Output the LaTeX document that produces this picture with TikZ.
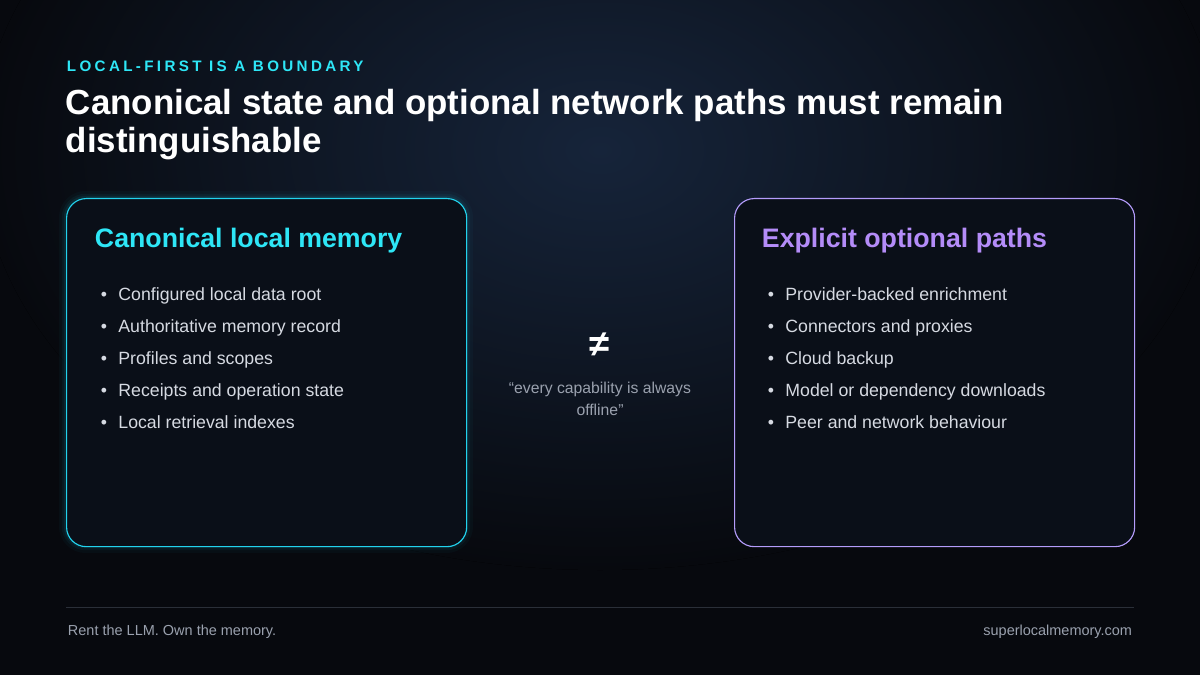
\documentclass[tikz,border=0pt]{standalone}
\usepackage{fontspec}
\setmainfont{Liberation Sans}
\usetikzlibrary{positioning}
\definecolor{bgdark}{HTML}{07090E}
\definecolor{bgglow}{HTML}{16243A}
\definecolor{boxfill}{HTML}{0A0F18}
\definecolor{cyanline}{HTML}{22D3EE}
\definecolor{cyantext}{HTML}{2EE6F6}
\definecolor{violetline}{HTML}{A78BFA}
\definecolor{violettext}{HTML}{B48CF8}
\definecolor{bodytext}{HTML}{D6DAE2}
\definecolor{mutedtext}{HTML}{9AA1AE}
\definecolor{rulegray}{HTML}{2A2F38}

\tikzset{
  panel/.style={draw, rounded corners=14pt, fill=boxfill, line width=0.8pt, minimum width=10cm, minimum height=8.7cm, anchor=north west},
  heading/.style={font=\fontsize{19}{22}\selectfont\bfseries, anchor=west},
  bullets/.style={font=\fontsize{12.6}{22.7}\selectfont, text=bodytext, anchor=north west, align=left},
  footer/.style={font=\fontsize{10.3}{12}\selectfont, text=mutedtext}
}

\begin{document}
\begin{tikzpicture}[x=0.025cm,y=-0.025cm]
    \useasboundingbox (0,0) rectangle (1200,675);
    \fill[bgdark] (0,0) rectangle (1200,675);
    \fill[inner color=bgglow, outer color=bgdark] (600,150) ellipse (620 and 420);

    % glow behind left panel
    \foreach \w/\o in {10/0.03,6/0.05,3/0.08}
      \draw[cyanline, opacity=\o, line width=\w pt, rounded corners=14pt] (66,198) rectangle (466,546);

    \node[panel, draw=cyanline] (local) at (66,198) {};
    \node[panel, draw=violetline!85] (paths) at (734,198) {};

    \node[anchor=west, text=cyantext, font=\fontsize{10.8}{12}\selectfont\bfseries\addfontfeature{LetterSpace=22}] (kicker) at (62,66) {LOCAL-FIRST IS A BOUNDARY};
    \node[anchor=north west, text=white, align=left, font=\fontsize{24.8}{27}\selectfont\bfseries] (title) at (61,84)
      {Canonical state and optional network paths must remain\\distinguishable};

    \node[heading, text=cyantext] (localhead) at (90,241) {Canonical local memory};
    \node[heading, text=violettext] (pathshead) at (757,241) {Explicit optional paths};

    \node[bullets] (locallist) at (96,283) {%
      \textbullet\hspace{8pt}Configured local data root\\
      \textbullet\hspace{8pt}Authoritative memory record\\
      \textbullet\hspace{8pt}Profiles and scopes\\
      \textbullet\hspace{8pt}Receipts and operation state\\
      \textbullet\hspace{8pt}Local retrieval indexes};
    \node[bullets] (pathslist) at (763,283) {%
      \textbullet\hspace{8pt}Provider-backed enrichment\\
      \textbullet\hspace{8pt}Connectors and proxies\\
      \textbullet\hspace{8pt}Cloud backup\\
      \textbullet\hspace{8pt}Model or dependency downloads\\
      \textbullet\hspace{8pt}Peer and network behaviour};

    \node[text=white, font=\fontsize{26}{28}\selectfont\bfseries] (neq) at (600,345) {≠};
    \node[text=mutedtext, align=center, font=\fontsize{11.2}{16}\selectfont] (quote) at (600,399)
      {“every capability is always\\offline”};

    \draw[rulegray, line width=0.7pt] (66,607) -- (1134,607);
    \node[footer, anchor=west] (tagline) at (63,632) {Rent the LLM. Own the memory.};
    \node[footer, anchor=east] (site) at (1137,632) {superlocalmemory.com};
\end{tikzpicture}
\end{document}
